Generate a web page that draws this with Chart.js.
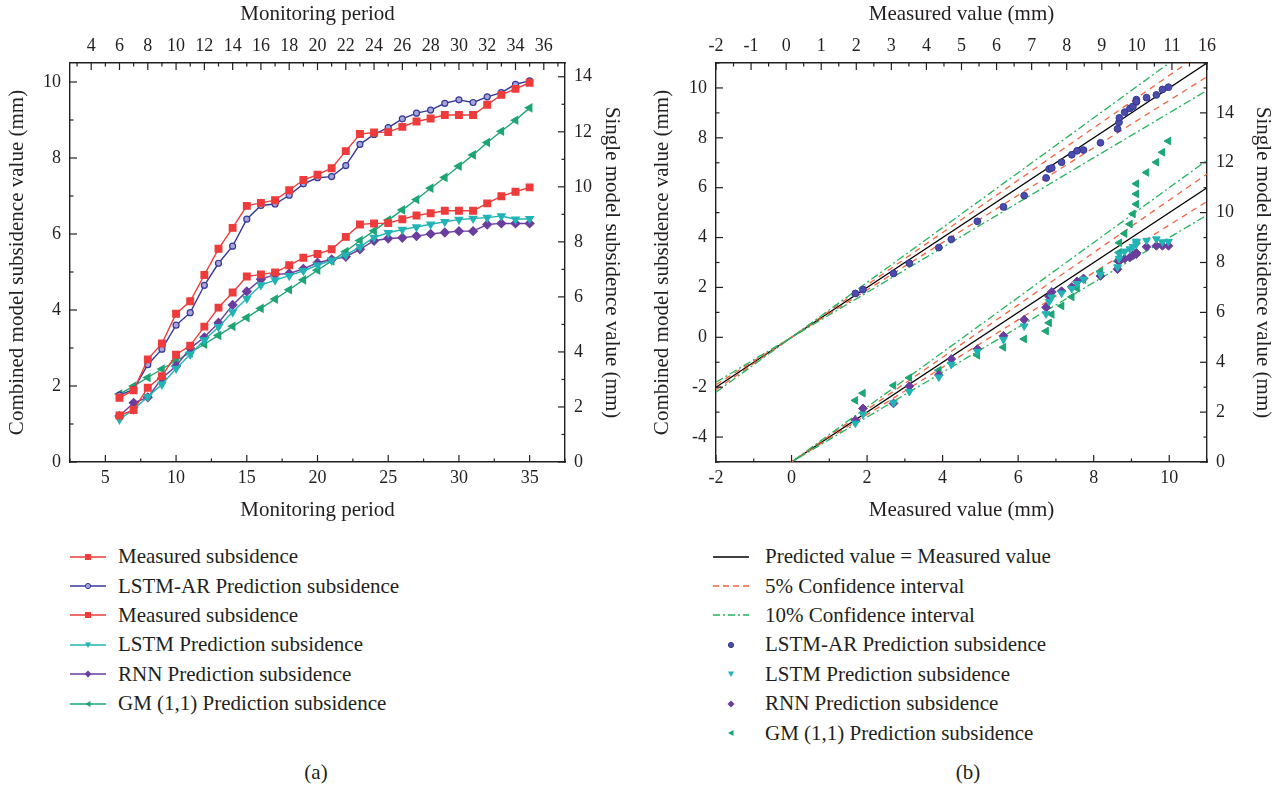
<!DOCTYPE html>
<html>
<head>
<meta charset="utf-8">
<title>Subsidence prediction comparison</title>
<script src="https://cdn.jsdelivr.net/npm/chart.js@4.4.1/dist/chart.umd.min.js"></script>
<style>
  body { margin: 0; background: #fff; font-family: "Liberation Serif", "DejaVu Serif", serif; color: #231f20; }
  .page { position: relative; width: 1280px; height: 788px; overflow: hidden; }
  canvas { position: absolute; top: 0; }
  #chart-a { left: 0; }
  #chart-b { left: 645px; }
  .legend { position: absolute; font-size: 21px; }
  .legend .row { display: flex; align-items: center; height: 29.4px; white-space: nowrap; }
  .legend svg { flex: none; }
  .caption { position: absolute; top: 760px; width: 60px; font-size: 21px; text-align: center; }
</style>
</head>
<body>
<div class="page">
  <canvas id="chart-a" width="629" height="525"></canvas>
  <canvas id="chart-b" width="635" height="525"></canvas>
  <div class="legend" id="legend-a" style="left:70px; top:542px;"></div>
  <div class="legend" id="legend-b" style="left:713px; top:542px;"></div>
  <div class="caption" style="left:286px;">(a)</div>
  <div class="caption" style="left:938px;">(b)</div>
</div>
<script>
// Monitoring periods and subsidence values (mm)
const periods = [6, 7, 8, 9, 10, 11, 12, 13, 14, 15, 16, 17, 18, 19, 20,
                 21, 22, 23, 24, 25, 26, 27, 28, 29, 30, 31, 32, 33, 34, 35];
const measured = [1.69, 1.89, 2.70, 3.12, 3.90, 4.23, 4.92, 5.61, 6.16, 6.74, 6.82, 6.89, 7.15, 7.42, 7.56,
                  7.73, 8.18, 8.63, 8.67, 8.68, 8.82, 8.96, 9.04, 9.13, 9.13, 9.13, 9.40, 9.66, 9.82, 9.98];
const lstmAr = [1.76, 1.91, 2.56, 2.97, 3.60, 3.93, 4.65, 5.23, 5.68, 6.39, 6.75, 6.79, 7.02, 7.32, 7.48,
                7.51, 7.80, 8.36, 8.62, 8.80, 9.03, 9.18, 9.26, 9.44, 9.53, 9.46, 9.61, 9.72, 9.94, 10.03];
const lstm = [1.55, 1.91, 2.37, 2.82, 3.40, 3.91, 4.43, 4.91, 5.45, 5.94, 6.43, 6.61, 6.77, 6.95, 7.15,
              7.33, 7.52, 7.82, 8.16, 8.33, 8.45, 8.54, 8.64, 8.73, 8.81, 8.85, 8.88, 8.94, 8.82, 8.84];
const rnn = [1.67, 2.15, 2.35, 3.04, 3.49, 4.13, 4.53, 5.06, 5.71, 6.20, 6.64, 6.82, 6.85, 7.02, 7.24,
             7.36, 7.46, 7.73, 8.04, 8.12, 8.15, 8.21, 8.29, 8.34, 8.39, 8.39, 8.63, 8.67, 8.67, 8.67];
const gm = [2.47, 2.76, 3.07, 3.38, 3.68, 3.97, 4.28, 4.60, 4.93, 5.25, 5.58, 5.92, 6.26, 6.62, 6.97,
            7.31, 7.65, 8.05, 8.40, 8.79, 9.16, 9.54, 9.95, 10.34, 10.75, 11.16, 11.61, 12.02, 12.42, 12.87];

// Tick labels
const periodTopLabels = [4, 6, 8, 10, 12, 14, 16, 18, 20, 22, 24, 26, 28, 30, 32, 34, 36];
const periodBottomLabels = [5, 10, 15, 20, 25, 30, 35];
const combinedLabelsA = [0, 2, 4, 6, 8, 10];
const singleLabels = [0, 2, 4, 6, 8, 10, 12, 14];
const measuredBottomLabels = [-2, 0, 2, 4, 6, 8, 10];
const measuredTopLabels = ["-2", "-1", "0", "1", "2", "3", "4", "5", "6", "7", "8", "9", "10", "11", "16"];
const combinedLabelsB = [-4, -2, 0, 2, 4, 6, 8, 10];

// Reference lines of panel (b): predicted = k * measured
const refEnds = [-2, 11];
const ci5 = [1.05, 0.95];
const ci10 = [1.1, 0.9];

const INK = "#231f20";
const SERIF = "'Liberation Serif', 'DejaVu Serif', serif";
const RED = "#ee3b3b";
const NAVY = "#363896";
const NAVY_FILL = "#a4a5dc";
const CYAN = "#22b4b4";
const PURPLE = "#6a3d9e";
const GREEN = "#1ea574";
const CI5_COLOR = "#f2643f";
const CI10_COLOR = "#25b35a";

// Origin style ticks: drawn inside the frame, minor ones shorter
const innerTicks = {
  id: "innerTicks",
  afterDraw(chart) {
    const { ctx, chartArea: a } = chart;
    ctx.save();
    ctx.strokeStyle = INK;
    ctx.lineWidth = 1.2;
    Object.values(chart.scales).forEach(scale => {
      const pos = scale.options.position;
      scale.ticks.forEach(t => {
        const len = t.label === "" ? 3.5 : 7;
        const p = scale.getPixelForValue(t.value);
        ctx.beginPath();
        if (pos === "top") { ctx.moveTo(p, a.top); ctx.lineTo(p, a.top + len); }
        else if (pos === "bottom") { ctx.moveTo(p, a.bottom); ctx.lineTo(p, a.bottom - len); }
        else if (pos === "left") { ctx.moveTo(a.left, p); ctx.lineTo(a.left + len, p); }
        else { ctx.moveTo(a.right, p); ctx.lineTo(a.right - len, p); }
        ctx.stroke();
      });
    });
    ctx.restore();
  }
};

// ticks on whole multiples of the step inside [from, to]
function tickRange(from, to, step) {
  const out = [];
  const first = Math.ceil(from / step - 1e-9) * step;
  for (let v = first; v <= to + 1e-9; v += step) out.push({ value: +v.toFixed(3) });
  return out;
}

const fromList = list => v => (list.includes(v) ? String(v) : "");

function makeAxis(position, min, max, minor, label, title, box, pad) {
  const horizontal = position === "top" || position === "bottom";
  const titlePad = horizontal ? (position === "top" ? 1.5 : 2.4) : 5;
  return {
    type: "linear",
    position,
    min,
    max,
    afterBuildTicks: s => { s.ticks = tickRange(min, max, minor); },
    afterFit: s => { if (horizontal) s.height = box; else s.width = box; },
    grid: { display: false, drawTicks: false },
    border: { display: true, color: INK, width: 1.4 },
    ticks: {
      autoSkip: false,
      maxRotation: 0,
      padding: pad,
      color: INK,
      font: { family: SERIF, size: 18 },
      callback: v => label(v)
    },
    title: {
      display: true,
      text: title,
      color: INK,
      font: { family: SERIF, size: 21 },
      padding: { top: titlePad, bottom: titlePad }
    }
  };
}

const series = ys => periods.map((p, i) => ({ x: p, y: ys[i] }));
const pairs = ys => measured.map((m, i) => ({ x: m, y: ys[i] }));

const baseOptions = {
  responsive: false,
  animation: false,
  events: [],
  layout: { padding: 0 },
  plugins: { legend: { display: false }, tooltip: { enabled: false } }
};

// Panel (a): subsidence over monitoring periods
new Chart(document.getElementById("chart-a"), {
  type: "line",
  data: {
    datasets: [
      { data: series(measured), xAxisID: "xB", yAxisID: "yL", borderColor: RED, backgroundColor: RED,
        pointStyle: "rect", pointRadius: 4.6 },
      { data: series(lstmAr), xAxisID: "xB", yAxisID: "yL", borderColor: NAVY, backgroundColor: NAVY_FILL,
        pointBorderColor: NAVY, pointBorderWidth: 1.2, pointStyle: "circle", pointRadius: 3 },
      { data: series(measured), xAxisID: "xB", yAxisID: "yR", borderColor: RED, backgroundColor: RED,
        pointStyle: "rect", pointRadius: 4.6 },
      { data: series(lstm), xAxisID: "xB", yAxisID: "yR", borderColor: CYAN, backgroundColor: CYAN,
        pointStyle: "triangle", pointRotation: 180, pointRadius: 4.2 },
      { data: series(rnn), xAxisID: "xB", yAxisID: "yR", borderColor: PURPLE, backgroundColor: PURPLE,
        pointStyle: "rectRot", pointRadius: 4.2 },
      { data: series(gm), xAxisID: "xB", yAxisID: "yR", borderColor: GREEN, backgroundColor: GREEN,
        pointStyle: "triangle", pointRotation: 270, pointRadius: 4.2 }
    ].map(d => Object.assign({ borderWidth: 1.4, tension: 0, fill: false }, d))
  },
  options: Object.assign({}, baseOptions, {
    scales: {
      xB: makeAxis("bottom", 2.5, 37.5, 2.5, fromList(periodBottomLabels), "Monitoring period", 63, 5),
      xT: makeAxis("top", 2.5, 37.5, 1, fromList(periodTopLabels), "Monitoring period", 63, 6),
      yL: makeAxis("left", 0, 10.5, 1, fromList(combinedLabelsA), "Combined model subsidence value (mm)", 70, 9),
      yR: makeAxis("right", 0, 14.5, 1, fromList(singleLabels), "Single model subsidence value (mm)", 64, 9)
    }
  }),
  plugins: [innerTicks]
});

// Panel (b): predicted vs measured
function refLine(k, axis, color, dash) {
  return {
    data: refEnds.map(x => ({ x, y: x * k })), xAxisID: "xB", yAxisID: axis, showLine: true,
    borderColor: color, borderDash: dash, borderWidth: 1.3, pointRadius: 0, order: 2
  };
}
const refSets = [];
["yL", "yR"].forEach(axis => {
  ci10.forEach(k => refSets.push(refLine(k, axis, CI10_COLOR, [8, 3, 2, 3])));
  ci5.forEach(k => refSets.push(refLine(k, axis, CI5_COLOR, [6, 5])));
  refSets.push(refLine(1, axis, "#000000", []));
});

new Chart(document.getElementById("chart-b"), {
  type: "scatter",
  data: {
    datasets: refSets.concat([
      { data: pairs(lstmAr), yAxisID: "yL", backgroundColor: "#4b4cab", borderColor: NAVY, borderWidth: 1,
        pointStyle: "circle", pointRadius: 3.4 },
      { data: pairs(lstm), yAxisID: "yR", backgroundColor: CYAN, borderColor: CYAN,
        pointStyle: "triangle", pointRotation: 180, pointRadius: 4.4 },
      { data: pairs(rnn), yAxisID: "yR", backgroundColor: PURPLE, borderColor: PURPLE,
        pointStyle: "rectRot", pointRadius: 4.4 },
      { data: pairs(gm), yAxisID: "yR", backgroundColor: GREEN, borderColor: GREEN,
        pointStyle: "triangle", pointRotation: 270, pointRadius: 4.4 }
    ].map(d => Object.assign({ xAxisID: "xB", showLine: false, order: 1 }, d)))
  },
  options: Object.assign({}, baseOptions, {
    scales: {
      xB: makeAxis("bottom", -2, 11, 1, fromList(measuredBottomLabels), "Measured value (mm)", 63, 5),
      xT: makeAxis("top", -2, 12, 0.5, v => (Number.isInteger(v) ? measuredTopLabels[v + 2] : ""), "Measured value (mm)", 63, 6),
      yL: makeAxis("left", -5, 11, 1, fromList(combinedLabelsB), "Combined model subsidence value (mm)", 71, 9),
      yR: makeAxis("right", 0, 16, 1, fromList(singleLabels), "Single model subsidence value (mm)", 73, 9)
    }
  }),
  plugins: [innerTicks]
});

// Legends
function markerSvg(kind, color) {
  const c = 18, m = 7;
  if (kind === "rect") return `<rect x="${c - 3}" y="${m - 3}" width="6" height="6" fill="${color}"/>`;
  if (kind === "circle") return `<circle cx="${c}" cy="${m}" r="2.6" fill="${color}" stroke="${NAVY}" stroke-width="1"/>`;
  if (kind === "down") return `<polygon points="${c - 3},${m - 2.5} ${c + 3},${m - 2.5} ${c},${m + 3}" fill="${color}"/>`;
  if (kind === "diamond") return `<polygon points="${c},${m - 3.5} ${c + 3.5},${m} ${c},${m + 3.5} ${c - 3.5},${m}" fill="${color}"/>`;
  if (kind === "left") return `<polygon points="${c - 3},${m} ${c + 2.5},${m - 3} ${c + 2.5},${m + 3}" fill="${color}"/>`;
  return "";
}

function buildLegend(el, entries, gap) {
  el.innerHTML = entries.map(e => {
    let svg = `<svg width="36" height="14" viewBox="0 0 36 14" style="margin-right:${gap}px">`;
    if (e.line) {
      svg += `<line x1="0" y1="7" x2="36" y2="7" stroke="${e.line}" stroke-width="1.6"` +
        (e.dash ? ` stroke-dasharray="${e.dash}"` : "") + `/>`;
    }
    if (e.marker) svg += markerSvg(e.marker, e.color);
    svg += `</svg>`;
    return `<div class="row">${svg}<span>${e.text}</span></div>`;
  }).join("");
}

buildLegend(document.getElementById("legend-a"), [
  { text: "Measured subsidence", line: RED, marker: "rect", color: RED },
  { text: "LSTM-AR Prediction subsidence", line: NAVY, marker: "circle", color: NAVY_FILL },
  { text: "Measured subsidence", line: RED, marker: "rect", color: RED },
  { text: "LSTM Prediction subsidence", line: CYAN, marker: "down", color: CYAN },
  { text: "RNN Prediction subsidence", line: PURPLE, marker: "diamond", color: PURPLE },
  { text: "GM (1,1) Prediction subsidence", line: GREEN, marker: "left", color: GREEN }
], 12);

buildLegend(document.getElementById("legend-b"), [
  { text: "Predicted value = Measured value", line: "#000000" },
  { text: "5% Confidence interval", line: CI5_COLOR, dash: "6 4" },
  { text: "10% Confidence interval", line: CI10_COLOR, dash: "7 3 2 3" },
  { text: "LSTM-AR Prediction subsidence", marker: "circle", color: "#4b4cab" },
  { text: "LSTM Prediction subsidence", marker: "down", color: CYAN },
  { text: "RNN Prediction subsidence", marker: "diamond", color: PURPLE },
  { text: "GM (1,1) Prediction subsidence", marker: "left", color: GREEN }
], 16);
</script>
</body>
</html>
